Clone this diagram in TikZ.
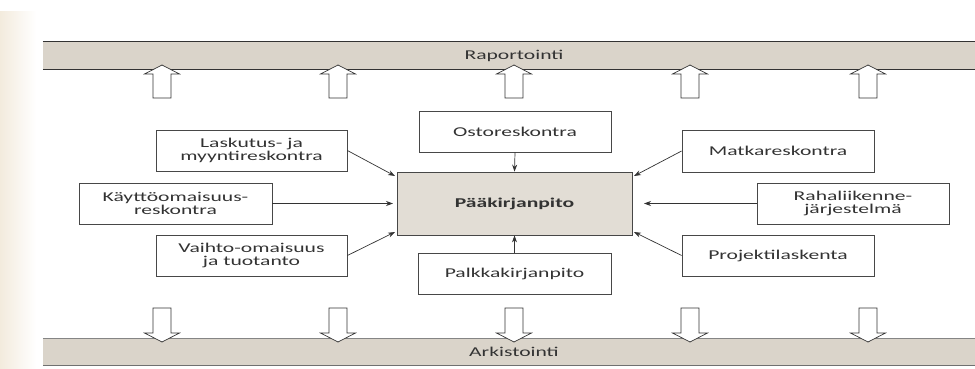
\documentclass[tikz,border=0pt]{standalone}
\usepackage{fontspec}
\setmainfont{Carlito}[FakeStretch=1.6]
\usetikzlibrary{arrows.meta,shadings}
\definecolor{barfill}{HTML}{DAD4CA}
\definecolor{pkfill}{HTML}{E2DDD5}
\definecolor{ink}{HTML}{333333}
\definecolor{paper}{HTML}{F3EBDD}
\begin{document}
\begin{tikzpicture}[x=1pt,y=-1pt,
  box/.style={draw=ink!90,line width=0.8pt,fill=white,inner sep=0pt,align=center,
    minimum height=41pt,minimum width=192pt,text=ink,
    font=\fontsize{13.5}{13.5}\selectfont},
  bar/.style={fill=barfill,inner sep=0pt,minimum height=27pt,text=ink,
    font=\fontsize{13.5}{13.5}\selectfont},
  feed/.style={draw=ink,line width=0.7pt,-{Stealth[length=7pt,width=5pt]}},
  blockarrow/.style={draw=ink,line width=0.7pt,fill=white}]
\useasboundingbox (0,0) rectangle (975,369);
\fill[white] (0,0) rectangle (975,369);
\shade[left color=paper,right color=white] (0,12) rectangle (36,369);
% bars
\node[bar,minimum width=932pt] (rap) at (509,55.5) {};
\node[bar,minimum width=932pt] (ark) at (509,352) {};
\draw[ink,line width=0.8pt] (rap.north west) -- (rap.north east);
\draw[ink,line width=0.8pt] (rap.south west) -- (rap.south east);
\draw[ink!60,line width=0.6pt] (ark.north west) -- (ark.north east);
\draw[ink!70,line width=0.6pt] (ark.south west) -- (ark.south east);
\node[text=ink,font=\fontsize{13.5}{13.5}\selectfont] (raptext) at (514,56) {Raportointi};
\node[text=ink,font=\fontsize{13.5}{13.5}\selectfont] (arktext) at (514,352) {Arkistointi};
% block arrows
\foreach \c/\n in {162/a,338/b,514/c,690/d,868/e}{
  \coordinate (up\n) at (\c,65);
  \coordinate (dn\n) at (\c,342);
  \draw[blockarrow] (up\n) -- ++(17.5,9) -- ++(-8.5,0) -- ++(0,24) -- ++(-18,0) -- ++(0,-24) -- ++(-8.5,0) -- cycle;
  \draw[blockarrow] (dn\n) -- ++(17.5,-9) -- ++(-8.5,0) -- ++(0,-25) -- ++(-18,0) -- ++(0,25) -- ++(-8.5,0) -- cycle;
}
% boxes
\node[box,minimum width=191pt] (lask) at (251.5,150.5) {Laskutus- ja\\myyntireskontra};
\node[box,minimum width=193pt] (kayt) at (175.5,203.5) {Käyttöomaisuus-\\reskontra};
\node[box,minimum width=191pt] (vaih) at (251.5,255.5) {Vaihto-omaisuus\\ja tuotanto};
\node[box] (osto) at (515,131.5) {Ostoreskontra};
\node[box,fill=pkfill,minimum width=235pt,minimum height=63pt,
  font=\fontsize{13.5}{13.5}\selectfont\bfseries] (pk) at (514.5,203.5) {Pääkirjanpito};
\node[box,minimum width=193pt] (palk) at (514.5,273.5) {Palkkakirjanpito};
\node[box,minimum height=42pt] (matk) at (778,151) {Matkareskontra};
\node[box] (raha) at (853,203.5) {Rahaliikenne-\\järjestelmä};
\node[box] (proj) at (778,255.5) {Projektilaskenta};
% connectors
\coordinate (pkNW) at (395,176);
\coordinate (pkW) at (393,203.5);
\coordinate (pkSW) at (395,232);
\coordinate (pkNE) at (634,176);
\coordinate (pkE) at (644,203.5);
\coordinate (pkSE) at (634,232);
\draw[feed] (lask.east) -- (pkNW);
\draw[feed] (kayt.east) -- (pkW);
\draw[feed] (vaih.east) -- (pkSW);
\draw[feed] (osto.south) -- (pk.north);
\draw[feed] (palk.north) -- (pk.south);
\draw[feed] (matk.west) -- (pkNE);
\draw[feed] (raha.west) -- (pkE);
\draw[feed] (proj.west) -- (pkSE);
\end{tikzpicture}
\end{document}
